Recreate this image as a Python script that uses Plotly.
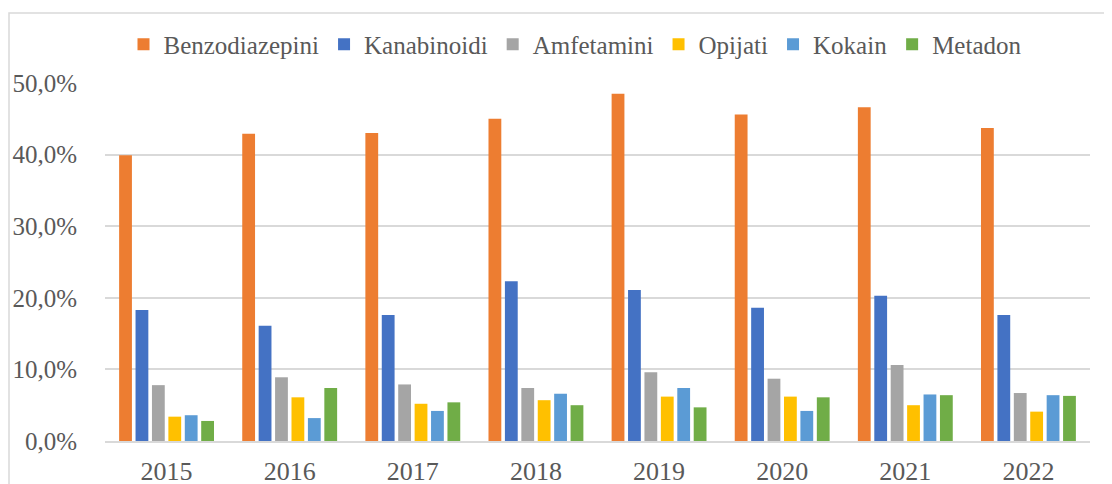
import plotly.graph_objects as go

years = ["2015", "2016", "2017", "2018", "2019", "2020", "2021", "2022"]

benzodiazepini = [39.9, 42.9, 43.0, 45.0, 48.5, 45.6, 46.6, 43.7]
kanabinoidi = [18.3, 16.1, 17.6, 22.3, 21.1, 18.6, 20.3, 17.6]
amfetamini = [7.8, 8.9, 7.9, 7.4, 9.6, 8.7, 10.6, 6.7]
opijati = [3.4, 6.1, 5.2, 5.7, 6.2, 6.2, 5.0, 4.1]
kokain = [3.6, 3.2, 4.2, 6.6, 7.4, 4.2, 6.5, 6.4]
metadon = [2.8, 7.4, 5.4, 5.0, 4.7, 6.1, 6.4, 6.3]

series = [
    ("Benzodiazepini", benzodiazepini, "#ED7D31"),
    ("Kanabinoidi", kanabinoidi, "#4472C4"),
    ("Amfetamini", amfetamini, "#A5A5A5"),
    ("Opijati", opijati, "#FFC000"),
    ("Kokain", kokain, "#5B9BD5"),
    ("Metadon", metadon, "#70AD47"),
]

y_ticks = [0, 10, 20, 30, 40, 50]
y_labels = ["0,0%", "10,0%", "20,0%", "30,0%", "40,0%", "50,0%"]

W, H = 1112, 484
OFF = 8  # page body margin shifts the figure
# plot area in screen pixels: x 105..1090, y 83..441
L, R, T, B = 105 - OFF, W - (1090 - OFF), 83 - OFF, H - (441 - OFF)

fig = go.Figure()
for name, vals, col in series:
    fig.add_trace(go.Bar(x=years, y=vals, name=name, marker=dict(color=col, line=dict(width=0))))


def px(x):
    return (x - OFF - L) / (W - L - R)


def py(y):
    return (H - B - (y - OFF)) / (H - T - B)


# chart-area border (only left and top edges are visible)
fig.add_shape(type="rect", xref="paper", yref="paper",
              x0=px(9), x1=px(1125), y0=py(500), y1=py(13),
              line=dict(color="#D9D9D9", width=1.5), fillcolor="rgba(0,0,0,0)")

font = "Liberation Serif"

fig.update_layout(
    width=W, height=H,
    margin=dict(l=L, r=R, t=T, b=B, autoexpand=False),
    paper_bgcolor="white", plot_bgcolor="white",
    barmode="group", bargap=0.2, bargroupgap=0.22,
    font=dict(family=font, size=25, color="#595959"),
    legend=dict(orientation="h", x=(575 - OFF) / W, xanchor="center",
                xref="container", yref="container",
                y=1 - (44.5 - OFF) / H, yanchor="middle",
                font=dict(size=25, color="#595959"),
                itemwidth=30, tracegroupgap=0, traceorder="normal"),
    xaxis=dict(showline=True, linecolor="#D9D9D9", linewidth=1.5, ticks="",
               ticklabelstandoff=6, tickfont=dict(size=26), showgrid=False, automargin=False),
    yaxis=dict(range=[0, 50], tickvals=y_ticks, ticktext=y_labels,
               showgrid=True, gridcolor="#D9D9D9", gridwidth=1.5, zeroline=False,
               showline=False, ticks="", ticklabelstandoff=27, automargin=False,
               tickfont=dict(size=25)),
)

fig.write_html("out.html")
